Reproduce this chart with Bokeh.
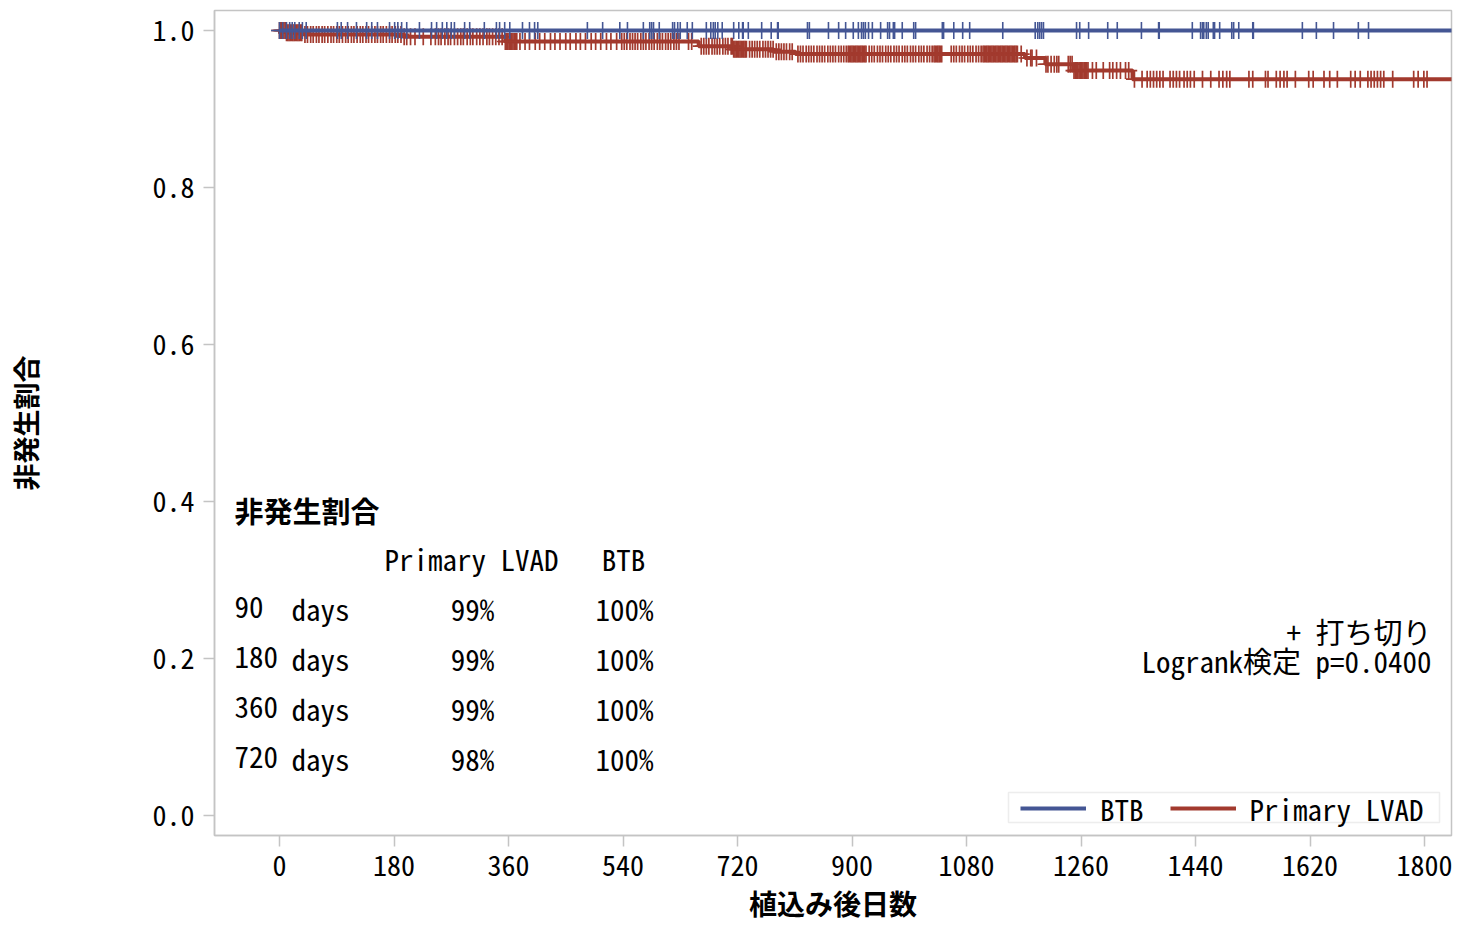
from bokeh.plotting import figure
from bokeh.models import (ColumnDataSource, Range1d, FixedTicker, PrintfTickFormatter,
                          Legend, LegendItem, Label, BoxAnnotation)
from bokeh.embed import file_html
from bokeh.resources import INLINE
import numpy as np

# ---------------- data ----------------
groups = ["BTB", "Primary LVAD"]
x_ticks = [0, 180, 360, 540, 720, 900, 1080, 1260, 1440, 1620, 1800]
y_ticks = [0.0, 0.2, 0.4, 0.6, 0.8, 1.0]

# Kaplan-Meier steps (day of event, survival after event)
lvad_event_days = [10, 38, 195, 355, 659, 714, 777, 811, 1172, 1204, 1248, 1341]
lvad_surv = [0.997, 0.995, 0.992, 0.986, 0.980, 0.976, 0.973, 0.970, 0.965, 0.957, 0.949, 0.938]
btb_event_days = []
btb_surv = []
followup_end = 1850

btb_censor = [0, 5, 11, 16, 20, 24, 31, 36, 42, 91, 97, 107, 121, 137, 145, 154, 173, 181,
              186, 192, 200, 220, 239, 247, 256, 263, 270, 275, 291, 299, 322, 341, 346, 354,
              362, 382, 393, 401, 406, 484, 508, 535, 547, 572, 582, 585, 588, 597, 618, 621,
              626, 630, 641, 649, 671, 678, 682, 685, 689, 696, 714, 722, 728, 729, 737, 758,
              773, 783, 784, 830, 833, 863, 879, 890, 902, 910, 915, 918, 921, 926, 932, 945,
              956, 959, 965, 967, 979, 997, 1000, 1042, 1044, 1060, 1074, 1085, 1137, 1188,
              1192, 1195, 1198, 1201, 1253, 1258, 1272, 1302, 1317, 1355, 1382, 1383, 1435,
              1448, 1451, 1453, 1457, 1460, 1468, 1470, 1478, 1497, 1500, 1508, 1530, 1531,
              1608, 1630, 1657, 1696, 1712]

lvad_censor = [0, 2, 3, 5, 7, 9, 11, 13, 15, 17, 19, 21, 23, 25, 27, 29, 31, 33, 35,
               40, 44, 49, 53, 58, 62, 67, 71, 76, 81, 85, 90, 94, 99, 104, 108, 113, 117,
               122, 127, 131, 136, 140, 145, 150, 154, 159, 163, 168, 173, 177, 182, 186,
               191, 196, 200, 206, 213, 226, 238,
               245, 250, 254, 260, 265, 269, 275, 280, 285, 289, 295, 300, 304, 310, 315,
               320, 326, 330, 335, 340, 345, 350,
               355, 357, 359, 361, 363, 365, 367, 369, 371, 373,
               378, 386, 393, 402, 409, 417, 426, 433, 441, 450, 457, 466, 473, 481, 490,
               497, 505, 514, 521, 530,
               538, 542, 546, 551, 555, 559, 563, 568, 572, 576, 581, 585, 589, 594, 598,
               602, 607, 611, 615, 620, 624, 628, 643, 648,
               663, 667, 671, 675, 680, 684, 688, 692, 697, 701, 705,
               710, 712, 714, 716, 718, 720, 722, 724, 726, 728, 730, 732, 734,
               739, 743, 747, 751, 755, 760, 764, 768, 772, 776, 781, 785, 789, 793, 797,
               802, 806, 815, 819, 823, 828, 832, 836, 840, 845, 849, 853, 857, 862, 866,
               870, 874, 879, 883, 887, 891,
               894, 896, 898, 900, 902, 904, 906, 908, 910, 912, 914, 916, 918, 920, 922,
               927, 931, 935, 940, 944, 948, 953, 957, 961, 966, 970, 974, 979, 983, 987,
               992, 996, 1000, 1005, 1009, 1013, 1018, 1022, 1026,
               1029, 1031, 1033, 1035, 1037, 1039, 1041,
               1056, 1060, 1064, 1069, 1073, 1077, 1082, 1086, 1090, 1095, 1099, 1103,
               1106, 1108, 1110, 1112, 1114, 1116, 1118, 1120, 1122, 1124, 1126, 1128, 1130,
               1132, 1134, 1136, 1138, 1140, 1142, 1144, 1146, 1148, 1150, 1152, 1154, 1156,
               1158, 1160, 1166, 1175, 1181, 1183, 1190,
               1205, 1208, 1213, 1218, 1222, 1225, 1240, 1243, 1246,
               1249, 1251, 1253, 1255, 1257, 1259, 1261, 1263, 1265, 1267, 1269, 1271,
               1278, 1284, 1295, 1305, 1310, 1316, 1322, 1330, 1335,
               1344, 1356, 1364, 1369, 1374, 1379, 1384, 1389,
               1400, 1405, 1410, 1415, 1422, 1427, 1432, 1438,
               1451, 1464, 1477, 1483, 1489, 1494, 1524, 1530, 1550, 1554, 1567, 1573,
               1579, 1584, 1597, 1618, 1625, 1642, 1651, 1663, 1684, 1691, 1699, 1711,
               1716, 1721, 1726, 1731, 1736, 1750, 1783, 1790, 1799, 1804]

x_title = "植込み後日数"
y_title = "非発生割合"
table_title = "非発生割合"
table_cols = ["Primary LVAD", "BTB"]
table_rows = ["90", "180", "360", "720"]
table_lvad = ["99%", "99%", "99%", "98%"]
table_btb = ["100%", "100%", "100%", "100%"]
censor_note = "+ 打ち切り"
logrank_note = "Logrank検定 p=0.0400"

BLUE = "#445694"
RED = "#A23A2E"
GRAY = "#c4c4c4"
FONT = "'Noto Sans Mono CJK JP', 'Noto Sans CJK JP', monospace"


def km_step(event_days, surv, end):
    xs = [0] + list(event_days) + [end]
    ys = [1.0] + list(surv) + [surv[-1] if surv else 1.0]
    return xs, ys


def km_at(t, event_days, surv):
    ed = np.asarray(event_days, dtype=float)
    sv = np.asarray([1.0] + list(surv))
    idx = np.searchsorted(ed, np.asarray(t, dtype=float), side="right")
    return sv[idx]


# ---------------- figure ----------------
# pixel mapping of the reference: day 0 -> 279px, 1800 -> 1424px; 1.0 -> 30px, 0.0 -> 815px
XPX = (1424 - 279) / 1800.0
YPX = 815 - 30
x_start = -(279 - 214) / XPX
x_end = (1451 - 279) / XPX
y_start = -(835 - 815) / YPX
y_end = 1 + (30 - 10) / YPX

p = figure(width=1456, height=926, output_backend="svg", toolbar_location=None,
           x_range=Range1d(x_start, x_end), y_range=Range1d(y_start, y_end),
           min_border_left=214, min_border_right=5, min_border_top=10, min_border_bottom=91)
p.grid.visible = False
p.outline_line_color = GRAY
p.outline_line_width = 1.5
p.background_fill_color = "white"
p.border_fill_color = "white"

for ax in (p.xaxis[0], p.yaxis[0]):
    ax.axis_line_color = GRAY
    ax.axis_line_width = 1.5
    ax.major_tick_line_color = GRAY
    ax.major_tick_line_width = 1.5
    ax.major_tick_out = 11
    ax.major_tick_in = 0
    ax.minor_tick_line_color = None
    ax.major_label_text_font = FONT
    ax.major_label_text_font_size = "28px"
    ax.major_label_text_color = "black"
    ax.axis_label_text_font = FONT
    ax.axis_label_text_font_size = "27px"
    ax.axis_label_text_font_style = "bold"
    ax.axis_label_text_color = "black"

p.xaxis.ticker = FixedTicker(ticks=x_ticks)
p.yaxis.ticker = FixedTicker(ticks=y_ticks)
p.yaxis.formatter = PrintfTickFormatter(format="%.1f")
p.xaxis.major_label_standoff = 8
p.yaxis.major_label_standoff = 9
p.xaxis.axis_label = x_title
p.xaxis.axis_label_text_font_size = "28px"
p.xaxis.axis_label_standoff = 4
p.yaxis.axis_label = y_title
p.yaxis.axis_label_standoff = 104

# ---- curves ----
lx, ly = km_step(lvad_event_days, lvad_surv, followup_end)
bx, by = km_step(btb_event_days, btb_surv, followup_end)

r_lvad = p.step(x=lx, y=ly, mode="after", line_color=RED, line_width=4)
lc_src = ColumnDataSource(dict(x=lvad_censor, y=km_at(lvad_censor, lvad_event_days, lvad_surv)))
p.scatter("x", "y", source=lc_src, marker="cross", size=17, line_color=RED, line_width=1.7)

r_btb = p.step(x=bx, y=by, mode="after", line_color=BLUE, line_width=4)
bc_src = ColumnDataSource(dict(x=btb_censor, y=km_at(btb_censor, btb_event_days, btb_surv)))
p.scatter("x", "y", source=bc_src, marker="cross", size=17, line_color=BLUE, line_width=1.6)


# ---- helpers converting reference pixel positions to data units (layout only) ----
def dx(px):
    return (px - 279) / XPX


def dy(py):
    return 1 - (py - 30) / YPX


# ---- legend: frame drawn as a box, legend itself transparent and borderless ----
p.add_layout(BoxAnnotation(left=dx(1008), right=dx(1439), top=dy(792), bottom=dy(822),
                           fill_color="white", fill_alpha=1.0, line_color=GRAY,
                           line_width=1.5, level="overlay"))
legend = Legend(items=[LegendItem(label=groups[0], renderers=[r_btb]),
                       LegendItem(label=groups[1], renderers=[r_lvad])],
                orientation="horizontal", location=(1020 - 214, 6))
legend.label_text_font = FONT
legend.label_text_font_size = "29px"
legend.label_text_color = "black"
legend.glyph_width = 66
legend.label_standoff = 14
legend.spacing = 26
legend.padding = 0
legend.margin = 0
legend.border_line_color = None
legend.background_fill_alpha = 0.0
legend.level = "overlay"
p.add_layout(legend)


# ---- inset table and notes ----
def add_text(x, y, text, align="left", bold=False, size="29px"):
    p.add_layout(Label(x=x, y=y, text=text, text_font=FONT, text_font_size=size,
                       text_align=align, text_baseline="alphabetic", text_color="black",
                       text_font_style="bold" if bold else "normal"))


add_text(dx(234), dy(509), table_title, bold=True)
add_text(dx(471), dy(557), table_cols[0], align="center")
add_text(dx(623), dy(557), table_cols[1], align="center")
row_y = [607, 657, 707, 757]
for lab, v1, v2, yy in zip(table_rows, table_lvad, table_btb, row_y):
    add_text(dx(234), dy(yy), lab)
    add_text(dx(291), dy(yy), "days")
    add_text(dx(472), dy(yy), v1, align="center")
    add_text(dx(624), dy(yy), v2, align="center")

add_text(dx(1431), dy(630), censor_note, align="right")
add_text(dx(1431), dy(659), logrank_note, align="right")

open("out.html", "w").write(file_html(p, INLINE))
